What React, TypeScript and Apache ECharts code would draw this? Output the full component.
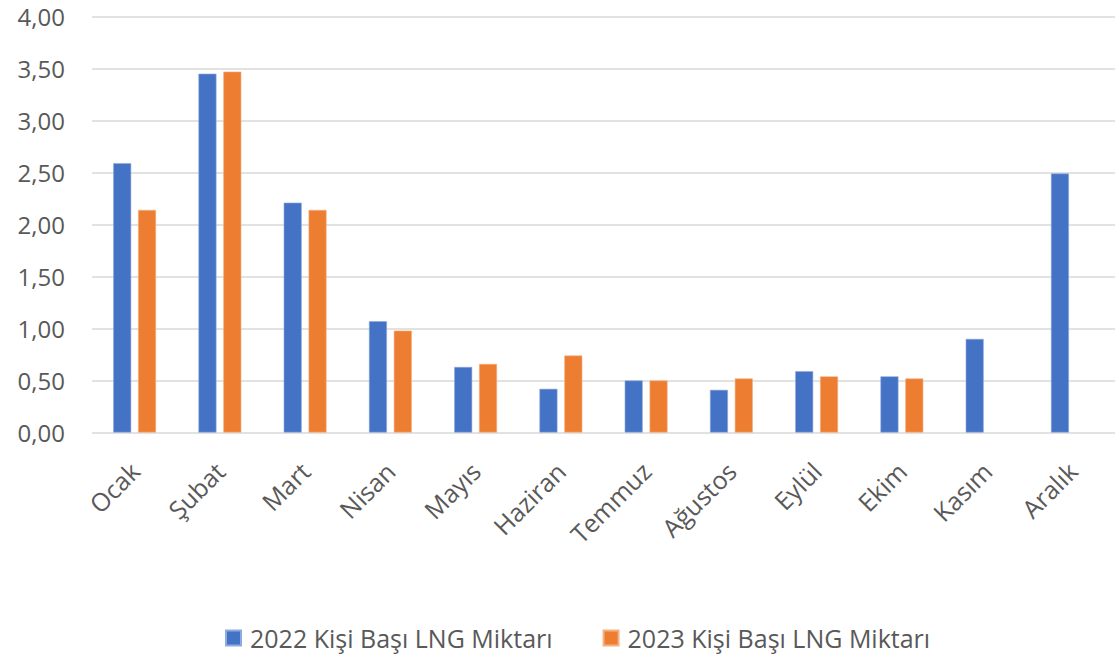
import React, { useEffect, useRef } from "react";
import * as echarts from "echarts";

const months = ["Ocak", "Şubat", "Mart", "Nisan", "Mayıs", "Haziran", "Temmuz", "Ağustos", "Eylül", "Ekim", "Kasım", "Aralık"];
const series2022 = [2.59, 3.45, 2.21, 1.07, 0.63, 0.42, 0.5, 0.41, 0.59, 0.54, 0.9, 2.49];
const series2023: (number | null)[] = [2.14, 3.47, 2.14, 0.98, 0.66, 0.74, 0.5, 0.52, 0.54, 0.52, null, null];
const name2022 = "2022 Kişi Başı LNG Miktarı";
const name2023 = "2023 Kişi Başı LNG Miktarı";

const FONT = "'Open Sans', sans-serif";

export default function App() {
  const ref = useRef<HTMLDivElement>(null);
  useEffect(() => {
    if (!ref.current) return;
    const chart = echarts.init(ref.current, null, { renderer: "svg" });
    chart.setOption({
      animation: false,
      textStyle: { fontFamily: FONT },
      grid: { left: 92, right: 0, top: 16.5, bottom: 221.5, containLabel: false },
      legend: {
        left: 220,
        top: 620,
        itemWidth: 15,
        itemHeight: 15,
        itemGap: 50,
        icon: "rect",
        textStyle: { fontSize: 25, lineHeight: 26, color: "#595959", fontFamily: FONT, padding: [0, 0, 0, 4] },
        data: [name2022, name2023],
      },
      xAxis: {
        type: "category",
        data: months,
        axisLine: { show: false },
        axisTick: { show: false },
        axisLabel: {
          rotate: 45,
          interval: 0,
          margin: 34,
          fontSize: 25,
          color: "#595959",
          fontFamily: FONT,
        },
      },
      yAxis: {
        type: "value",
        min: 0,
        max: 4,
        interval: 0.5,
        axisLabel: {
          margin: 27,
          fontSize: 24,
          color: "#595959",
          fontFamily: FONT,
          formatter: (v: number) => v.toFixed(2).replace(".", ","),
        },
        splitLine: { lineStyle: { color: "#d9d9d9", width: 1.5 } },
      },
      series: [
        {
          name: name2022,
          type: "bar",
          data: series2022,
          barWidth: 18,
          barGap: "38%",
          itemStyle: { color: "#4472C4", borderColor: "#8faadc", borderWidth: 0.6 },
        },
        {
          name: name2023,
          type: "bar",
          data: series2023,
          barWidth: 18,
          barGap: "38%",
          itemStyle: { color: "#ED7D31", borderColor: "#f4b183", borderWidth: 0.6 },
        },
      ],
    });
    return () => chart.dispose();
  }, []);
  return <div ref={ref} style={{ position: "fixed", left: 0, top: 0, width: 1115, height: 654, background: "#fff" }} />;
}
